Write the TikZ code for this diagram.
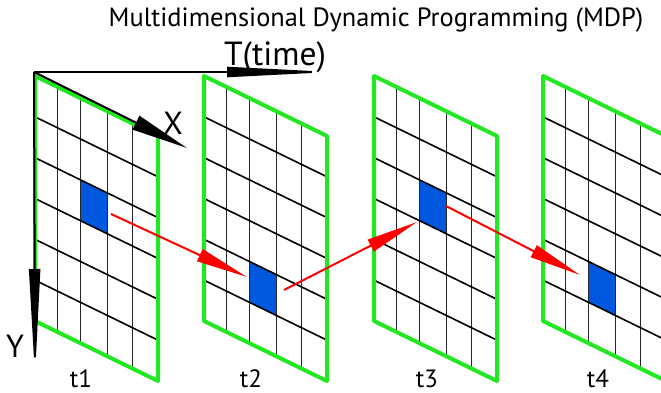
\documentclass[tikz,border=0pt]{standalone}
\usepackage{fontspec}
\setmainfont{PT Sans}
\usetikzlibrary{arrows.meta}
\definecolor{framegreen}{RGB}{34,232,34}
\definecolor{cellblue}{RGB}{0,88,222}
\definecolor{arrred}{RGB}{255,0,0}
\tikzset{
  frame/.style={draw=framegreen,line width=4pt,line join=round},
  hline/.style={draw=black,line width=1.6pt},
  vline/.style={draw=black!85,line width=1pt},
  axis/.style={draw=black,line width=2pt},
  redarr/.style={draw=arrred,line width=2pt,-{Triangle[length=52pt,width=13pt]}},
  lbl/.style={inner sep=0pt,anchor=base}
}
\newcommand\mdppanel[2]{%
  \fill[cellblue] ({#1+45},{76+#2*40.8333+0.4878*45}) -- ({#1+72},{76+#2*40.8333+0.4878*72})
     -- ({#1+72},{76+(#2+1)*40.8333+0.4878*72}) -- ({#1+45},{76+(#2+1)*40.8333+0.4878*45}) -- cycle;
  \foreach \u in {22.5,45,72,97.5} \draw[vline] ({#1+\u},{76+0.4878*\u}) -- ({#1+\u},{321+0.4878*\u});
  \foreach \k in {1,...,5} \draw[hline] (#1,{76+\k*40.8333}) -- ({#1+123},{136+\k*40.8333});
  \draw[frame] (#1,76) -- ({#1+123},136) -- ({#1+123},381) -- (#1,321) -- cycle;
}
\begin{document}
\begin{tikzpicture}[x=1pt,y=-1pt]
\useasboundingbox (0,0) rectangle (661,393);
\clip (0,0) rectangle (661,393);
\fill[white] (0,0) rectangle (661,393);
\mdppanel{35}{2}
\mdppanel{204}{4}
\mdppanel{374}{2}
\mdppanel{543}{4}
% axes
\coordinate (O) at (34,72);
\coordinate (Tend) at (333,72);
\coordinate (Xend) at (187,148);
\coordinate (Yend) at (35,377);
\draw[axis,-{Triangle[length=106pt,width=10pt]}] (O) -- (Tend);
\draw[axis,-{Triangle[length=57pt,width=15pt]}] (O) -- (Xend);
\draw[axis,-{Triangle[length=108pt,width=11pt]}] (O) -- (Yend);
% red arrows
\coordinate (a1s) at (111,214); \coordinate (a1e) at (247,277);
\coordinate (a2s) at (284,290); \coordinate (a2e) at (417,222);
\coordinate (a3s) at (446,206); \coordinate (a3e) at (580,275);
\draw[redarr] (a1s) -- (a1e);
\draw[redarr] (a2s) -- (a2e);
\draw[redarr] (a3s) -- (a3e);
% labels
\node[lbl,font=\fontsize{26.4}{26.4}\selectfont] (title) at (376,27) {Multidimensional Dynamic Programming (MDP)};
\node[lbl,font=\fontsize{33.5}{33.5}\selectfont] (tlab) at (275,66) {T(time)};
\node[lbl,font=\fontsize{32}{32}\selectfont] (xlab) at (173,135) {X};
\node[lbl,font=\fontsize{32}{32}\selectfont] (ylab) at (15,357) {Y};
\node[lbl,font=\fontsize{25}{25}\selectfont] (t1) at (81,387) {t1};
\node[lbl,font=\fontsize{25}{25}\selectfont] (t2) at (251,387) {t2};
\node[lbl,font=\fontsize{25}{25}\selectfont] (t3) at (427,387) {t3};
\node[lbl,font=\fontsize{25}{25}\selectfont] (t4) at (598,387) {t4};
\end{tikzpicture}
\end{document}
